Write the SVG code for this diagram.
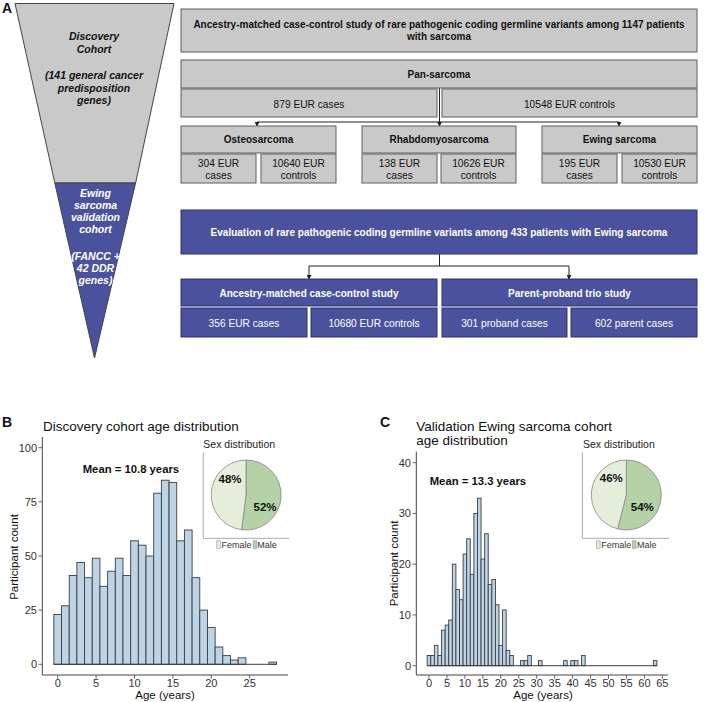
<svg xmlns="http://www.w3.org/2000/svg" width="726" height="702" viewBox="0 0 726 702">
<defs>
<marker id="arr" viewBox="0 0 6 6" refX="5" refY="3" markerWidth="5" markerHeight="5" orient="auto" markerUnits="userSpaceOnUse">
<path d="M0,0 L6,3 L0,6 z" fill="#222"/>
</marker>
<style>
text{font-family:"Liberation Sans",Arial,sans-serif;}
.gbox{fill:#c9c9c9;stroke:#5e5e5e;stroke-width:1;}
.bbox{fill:#4a529e;stroke:#2c3170;stroke-width:1;}
.gt{font-size:10.2px;fill:#111;text-anchor:middle;}
.gtb{font-size:10px;font-weight:bold;fill:#111;text-anchor:middle;}
.bt{font-size:10.2px;fill:#fff;text-anchor:middle;}
.btb{font-size:10px;font-weight:bold;fill:#fff;text-anchor:middle;}
.conn{fill:none;stroke:#222;stroke-width:1;}
.ft{font-size:10.5px;font-weight:bold;font-style:italic;text-anchor:middle;}
.bar{fill:#bcd4e6;stroke:#3a3f44;stroke-width:0.9;}
.axis{stroke:#444;stroke-width:1;fill:none;}
.tick{stroke:#444;stroke-width:0.8;}
.tl{font-size:11px;fill:#333;}
.ttl{font-size:13.5px;fill:#111;}
.at{font-size:11.5px;fill:#111;text-anchor:middle;}
.mean{font-size:11.3px;font-weight:bold;fill:#111;}
.sex{font-size:10.5px;fill:#222;}
.pct{font-size:11.5px;font-weight:bold;fill:#111;text-anchor:middle;}
.leg{font-size:9px;fill:#333;}
.inax{stroke:#aaa;stroke-width:1;fill:none;}
.fem{fill:#e4eedb;stroke:#888;stroke-width:0.8;}
.male{fill:#b5d2a6;stroke:#888;stroke-width:0.8;}
.lab{font-size:14px;font-weight:bold;fill:#111;}
</style>
</defs>

<!-- Panel A label -->
<text class="lab" x="2" y="13">A</text>

<!-- Funnel -->
<g id="funnel">
<polygon points="15,3.5 174,3.5 135.6,183 54.8,183" fill="#c9c9c9" stroke="#444" stroke-width="1"/>
<polygon points="54.8,183 135.6,183 94.5,358" fill="#4a529e" stroke="#444" stroke-width="1"/>
<text class="ft" fill="#111" x="94" y="40">Discovery</text>
<text class="ft" fill="#111" x="94" y="53">Cohort</text>
<text class="ft" fill="#111" x="94" y="79">(141 general cancer</text>
<text class="ft" fill="#111" x="94" y="92">predisposition</text>
<text class="ft" fill="#111" x="94" y="104">genes)</text>
<text class="ft" fill="#fff" x="95.5" y="197">Ewing</text>
<text class="ft" fill="#fff" x="95.5" y="209">sarcoma</text>
<text class="ft" fill="#fff" x="95.5" y="221">validation</text>
<text class="ft" fill="#fff" x="95.5" y="233">cohort</text>
<text class="ft" fill="#fff" x="95.5" y="260">(FANCC +</text>
<text class="ft" fill="#fff" x="95.5" y="272">42 DDR</text>
<text class="ft" fill="#fff" x="95.5" y="284">genes)</text>
</g>

<!-- Connectors -->
<g id="connectors">
<path class="conn" d="M439.5,88 V122"/>
<path class="conn" d="M257,122 H619"/>
<path class="conn" d="M257,122 V126" marker-end="url(#arr)"/>
<path class="conn" d="M439.5,122 V126" marker-end="url(#arr)"/>
<path class="conn" d="M619,122 V126" marker-end="url(#arr)"/>
<path class="conn" d="M439.5,254 V266 M309,266 H569"/>
<path class="conn" d="M309,266 V279" marker-end="url(#arr)"/>
<path class="conn" d="M569,266 V279" marker-end="url(#arr)"/>
</g>

<!-- Gray boxes -->
<g id="n-study">
<rect class="gbox" x="181" y="9" width="516" height="43"/>
<text class="gtb" x="439" y="28">Ancestry-matched case-control study of rare pathogenic coding germline variants among 1147 patients</text>
<text class="gtb" x="439" y="40">with sarcoma</text>
</g>
<g id="n-pan">
<rect class="gbox" x="181" y="60" width="516" height="28"/>
<text class="gtb" x="439" y="78">Pan-sarcoma</text>
</g>
<g id="n-pan-cases">
<rect class="gbox" x="181" y="89" width="256" height="28"/>
<text class="gt" x="309" y="108">879 EUR cases</text>
</g>
<g id="n-pan-controls">
<rect class="gbox" x="442" y="89" width="255" height="28"/>
<text class="gt" x="569.5" y="108">10548 EUR controls</text>
</g>
<g id="n-osteo">
<rect class="gbox" x="181" y="126" width="155" height="27"/>
<text class="gtb" x="258.5" y="143">Osteosarcoma</text>
</g>
<g id="n-osteo-cases">
<rect class="gbox" x="181" y="154" width="75" height="29"/>
<text class="gt" x="218.5" y="167">304 EUR</text>
<text class="gt" x="218.5" y="179">cases</text>
</g>
<g id="n-osteo-controls">
<rect class="gbox" x="261" y="154" width="75" height="29"/>
<text class="gt" x="298.5" y="167">10640 EUR</text>
<text class="gt" x="298.5" y="179">controls</text>
</g>
<g id="n-rhabdo">
<rect class="gbox" x="362" y="126" width="154" height="27"/>
<text class="gtb" x="439" y="143">Rhabdomyosarcoma</text>
</g>
<g id="n-rhabdo-cases">
<rect class="gbox" x="362" y="154" width="75" height="29"/>
<text class="gt" x="399.5" y="167">138 EUR</text>
<text class="gt" x="399.5" y="179">cases</text>
</g>
<g id="n-rhabdo-controls">
<rect class="gbox" x="441" y="154" width="75" height="29"/>
<text class="gt" x="478.5" y="167">10626 EUR</text>
<text class="gt" x="478.5" y="179">controls</text>
</g>
<g id="n-ewing">
<rect class="gbox" x="542" y="126" width="155" height="27"/>
<text class="gtb" x="619.5" y="143">Ewing sarcoma</text>
</g>
<g id="n-ewing-cases">
<rect class="gbox" x="542" y="154" width="75" height="29"/>
<text class="gt" x="579.5" y="167">195 EUR</text>
<text class="gt" x="579.5" y="179">cases</text>
</g>
<g id="n-ewing-controls">
<rect class="gbox" x="622" y="154" width="75" height="29"/>
<text class="gt" x="659.5" y="167">10530 EUR</text>
<text class="gt" x="659.5" y="179">controls</text>
</g>

<!-- Blue boxes -->
<g id="n-eval">
<rect class="bbox" x="181" y="210" width="516" height="44"/>
<text class="btb" x="439" y="236">Evaluation of rare pathogenic coding germline variants among 433 patients with Ewing sarcoma</text>
</g>
<g id="n-cc">
<rect class="bbox" x="181" y="279" width="256" height="27"/>
<text class="btb" x="309" y="297">Ancestry-matched case-control study</text>
</g>
<g id="n-trio">
<rect class="bbox" x="442" y="279" width="255" height="27"/>
<text class="btb" x="569.5" y="297">Parent-proband trio study</text>
</g>
<g id="n-cc-cases">
<rect class="bbox" x="181" y="308" width="126" height="29"/>
<text class="bt" x="244" y="327">356 EUR cases</text>
</g>
<g id="n-cc-controls">
<rect class="bbox" x="311" y="308" width="126" height="29"/>
<text class="bt" x="374" y="327">10680 EUR controls</text>
</g>
<g id="n-proband">
<rect class="bbox" x="442" y="308" width="125" height="29"/>
<text class="bt" x="504.5" y="327">301 proband cases</text>
</g>
<g id="n-parent">
<rect class="bbox" x="571" y="308" width="126" height="29"/>
<text class="bt" x="634" y="327">602 parent cases</text>
</g>

<!-- Panel B -->
<g id="panelB">
<text class="lab" x="2" y="427">B</text>
<text class="ttl" x="43" y="431">Discovery cohort age distribution</text>
<g>
<rect class="bar" x="53.86" y="614.5" width="7.68" height="49.8"/>
<rect class="bar" x="61.54" y="605.8" width="7.68" height="58.5"/>
<rect class="bar" x="69.22" y="575.5" width="7.68" height="88.8"/>
<rect class="bar" x="76.90" y="562.5" width="7.68" height="101.8"/>
<rect class="bar" x="84.58" y="577.7" width="7.68" height="86.6"/>
<rect class="bar" x="92.26" y="558.2" width="7.68" height="106.1"/>
<rect class="bar" x="99.94" y="586.3" width="7.68" height="78.0"/>
<rect class="bar" x="107.62" y="571.2" width="7.68" height="93.1"/>
<rect class="bar" x="115.30" y="558.2" width="7.68" height="106.1"/>
<rect class="bar" x="122.98" y="575.5" width="7.68" height="88.8"/>
<rect class="bar" x="130.66" y="540.8" width="7.68" height="123.5"/>
<rect class="bar" x="138.34" y="545.2" width="7.68" height="119.1"/>
<rect class="bar" x="146.02" y="556.0" width="7.68" height="108.3"/>
<rect class="bar" x="153.70" y="493.2" width="7.68" height="171.1"/>
<rect class="bar" x="161.38" y="480.2" width="7.68" height="184.1"/>
<rect class="bar" x="169.06" y="482.4" width="7.68" height="181.9"/>
<rect class="bar" x="176.74" y="540.8" width="7.68" height="123.5"/>
<rect class="bar" x="184.42" y="530.0" width="7.68" height="134.3"/>
<rect class="bar" x="192.10" y="577.7" width="7.68" height="86.6"/>
<rect class="bar" x="199.78" y="610.1" width="7.68" height="54.2"/>
<rect class="bar" x="207.46" y="627.5" width="7.68" height="36.8"/>
<rect class="bar" x="215.14" y="647.0" width="7.68" height="17.3"/>
<rect class="bar" x="222.82" y="655.6" width="7.68" height="8.7"/>
<rect class="bar" x="230.50" y="660.0" width="7.68" height="4.3"/>
<rect class="bar" x="238.18" y="657.8" width="7.68" height="6.5"/>
<rect class="bar" x="268.90" y="662.1" width="7.68" height="2.2"/>
<line x1="53.86" y1="664.3" x2="276.58" y2="664.3" stroke="#3a3f44" stroke-width="1"/>
</g>
<path class="axis" d="M42.3,437 V675 H288"/>
<g class="tick">
<line x1="38.5" y1="447.7" x2="42.3" y2="447.7"/>
<line x1="38.5" y1="501.8" x2="42.3" y2="501.8"/>
<line x1="38.5" y1="556" x2="42.3" y2="556"/>
<line x1="38.5" y1="610.1" x2="42.3" y2="610.1"/>
<line x1="38.5" y1="664.3" x2="42.3" y2="664.3"/>
<line x1="57.7" y1="675" x2="57.7" y2="678.8"/>
<line x1="96.1" y1="675" x2="96.1" y2="678.8"/>
<line x1="134.5" y1="675" x2="134.5" y2="678.8"/>
<line x1="172.9" y1="675" x2="172.9" y2="678.8"/>
<line x1="211.3" y1="675" x2="211.3" y2="678.8"/>
<line x1="249.7" y1="675" x2="249.7" y2="678.8"/>
</g>
<g class="tl" text-anchor="end">
<text x="37" y="451.6">100</text>
<text x="37" y="505.7">75</text>
<text x="37" y="559.9">50</text>
<text x="37" y="614">25</text>
<text x="37" y="668.2">0</text>
</g>
<g class="tl" text-anchor="middle">
<text x="57.7" y="686.5">0</text>
<text x="96.1" y="686.5">5</text>
<text x="134.5" y="686.5">10</text>
<text x="172.9" y="686.5">15</text>
<text x="211.3" y="686.5">20</text>
<text x="249.7" y="686.5">25</text>
</g>
<text class="at" x="165" y="699">Age (years)</text>
<text class="at" transform="translate(17.5,557) rotate(-90)">Participant count</text>
<text class="mean" x="82.7" y="472.7">Mean = 10.8 years</text>
<!-- inset -->
<text class="sex" x="203.3" y="447.7">Sex distribution</text>
<path class="inax" d="M203.3,452.7 V538.3 H289.3"/>
<path class="male" d="M246,495 L246,460 A35,35 0 1 1 241.6,529.7 Z"/>
<path class="fem" d="M246,495 L241.6,529.7 A35,35 0 0 1 246,460 Z"/>
<text class="pct" x="230" y="483.3">48%</text>
<text class="pct" x="265" y="510.7">52%</text>
<rect x="216.8" y="540.8" width="3.6" height="7.5" fill="#e4eedb" stroke="#999" stroke-width="0.6"/>
<text class="leg" x="221.5" y="547.5">Female</text>
<rect x="253.2" y="540.8" width="3.6" height="7.5" fill="#b5d2a6" stroke="#999" stroke-width="0.6"/>
<text class="leg" x="257.3" y="547.5">Male</text>
</g>

<!-- Panel C -->
<g id="panelC">
<text class="lab" x="380" y="427">C</text>
<text class="ttl" x="416.3" y="430.7">Validation Ewing sarcoma cohort</text>
<text class="ttl" x="416.3" y="445">age distribution</text>
<g>
<rect class="bar" x="427.20" y="655.55" width="3.59" height="10.15"/>
<rect class="bar" x="430.79" y="655.55" width="3.59" height="10.15"/>
<rect class="bar" x="434.38" y="645.4" width="3.59" height="20.3"/>
<rect class="bar" x="437.97" y="655.55" width="3.59" height="10.15"/>
<rect class="bar" x="441.56" y="630.17" width="3.59" height="35.53"/>
<rect class="bar" x="445.15" y="625.1" width="3.59" height="40.6"/>
<rect class="bar" x="448.74" y="620.02" width="3.59" height="45.68"/>
<rect class="bar" x="452.33" y="564.2" width="3.59" height="101.5"/>
<rect class="bar" x="455.92" y="589.57" width="3.59" height="76.13"/>
<rect class="bar" x="459.51" y="599.72" width="3.59" height="65.98"/>
<rect class="bar" x="463.10" y="554.05" width="3.59" height="111.65"/>
<rect class="bar" x="466.69" y="538.82" width="3.59" height="126.88"/>
<rect class="bar" x="470.28" y="574.35" width="3.59" height="91.35"/>
<rect class="bar" x="473.87" y="513.45" width="3.59" height="152.25"/>
<rect class="bar" x="477.46" y="498.22" width="3.59" height="167.48"/>
<rect class="bar" x="481.05" y="559.12" width="3.59" height="106.58"/>
<rect class="bar" x="484.64" y="533.75" width="3.59" height="131.95"/>
<rect class="bar" x="488.23" y="584.5" width="3.59" height="81.2"/>
<rect class="bar" x="491.82" y="579.42" width="3.59" height="86.28"/>
<rect class="bar" x="495.41" y="604.8" width="3.59" height="60.9"/>
<rect class="bar" x="499.00" y="645.4" width="3.59" height="20.3"/>
<rect class="bar" x="502.59" y="609.87" width="3.59" height="55.83"/>
<rect class="bar" x="506.18" y="650.47" width="3.59" height="15.23"/>
<rect class="bar" x="509.77" y="655.55" width="3.59" height="10.15"/>
<rect class="bar" x="520.54" y="660.62" width="3.59" height="5.08"/>
<rect class="bar" x="524.13" y="660.62" width="3.59" height="5.08"/>
<rect class="bar" x="527.72" y="655.55" width="3.59" height="10.15"/>
<rect class="bar" x="538.49" y="660.62" width="3.59" height="5.08"/>
<rect class="bar" x="563.62" y="660.62" width="3.59" height="5.08"/>
<rect class="bar" x="570.80" y="660.62" width="3.59" height="5.08"/>
<rect class="bar" x="574.39" y="660.62" width="3.59" height="5.08"/>
<rect class="bar" x="581.57" y="655.55" width="3.59" height="10.15"/>
<rect class="bar" x="653.37" y="660.62" width="3.59" height="5.08"/>
<line x1="427.2" y1="665.7" x2="656.96" y2="665.7" stroke="#3a3f44" stroke-width="1"/>
</g>
<path class="axis" d="M416.3,451.7 V675 H668"/>
<g class="tick">
<line x1="412.5" y1="462.7" x2="416.3" y2="462.7"/>
<line x1="412.5" y1="513.45" x2="416.3" y2="513.45"/>
<line x1="412.5" y1="564.2" x2="416.3" y2="564.2"/>
<line x1="412.5" y1="614.95" x2="416.3" y2="614.95"/>
<line x1="412.5" y1="665.7" x2="416.3" y2="665.7"/>
<line x1="429" y1="675" x2="429" y2="678.8"/>
<line x1="446.95" y1="675" x2="446.95" y2="678.8"/>
<line x1="464.9" y1="675" x2="464.9" y2="678.8"/>
<line x1="482.85" y1="675" x2="482.85" y2="678.8"/>
<line x1="500.8" y1="675" x2="500.8" y2="678.8"/>
<line x1="518.75" y1="675" x2="518.75" y2="678.8"/>
<line x1="536.7" y1="675" x2="536.7" y2="678.8"/>
<line x1="554.65" y1="675" x2="554.65" y2="678.8"/>
<line x1="572.6" y1="675" x2="572.6" y2="678.8"/>
<line x1="590.55" y1="675" x2="590.55" y2="678.8"/>
<line x1="608.5" y1="675" x2="608.5" y2="678.8"/>
<line x1="626.45" y1="675" x2="626.45" y2="678.8"/>
<line x1="644.4" y1="675" x2="644.4" y2="678.8"/>
<line x1="662.35" y1="675" x2="662.35" y2="678.8"/>
</g>
<g class="tl" text-anchor="end">
<text x="411" y="466.6">40</text>
<text x="411" y="517.4">30</text>
<text x="411" y="568.1">20</text>
<text x="411" y="618.9">10</text>
<text x="411" y="669.6">0</text>
</g>
<g class="tl" text-anchor="middle">
<text x="429" y="686.5">0</text>
<text x="446.95" y="686.5">5</text>
<text x="464.9" y="686.5">10</text>
<text x="482.85" y="686.5">15</text>
<text x="500.8" y="686.5">20</text>
<text x="518.75" y="686.5">25</text>
<text x="536.7" y="686.5">30</text>
<text x="554.65" y="686.5">35</text>
<text x="572.6" y="686.5">40</text>
<text x="590.55" y="686.5">45</text>
<text x="608.5" y="686.5">50</text>
<text x="626.45" y="686.5">55</text>
<text x="644.4" y="686.5">60</text>
<text x="662.35" y="686.5">65</text>
</g>
<text class="at" x="543" y="699">Age (years)</text>
<text class="at" transform="translate(397.5,563.5) rotate(-90)">Participant count</text>
<text class="mean" x="429.7" y="485">Mean = 13.3 years</text>
<!-- inset -->
<text class="sex" x="583" y="447.7">Sex distribution</text>
<path class="inax" d="M582.3,452.7 V538.3 H669"/>
<path class="male" d="M626.3,495 L626.3,460 A35,35 0 1 1 617.6,528.9 Z"/>
<path class="fem" d="M626.3,495 L617.6,528.9 A35,35 0 0 1 626.3,460 Z"/>
<text class="pct" x="611.3" y="482.3">46%</text>
<text class="pct" x="642.3" y="510.7">54%</text>
<rect x="596.5" y="540.8" width="3.6" height="7.5" fill="#e4eedb" stroke="#999" stroke-width="0.6"/>
<text class="leg" x="601.3" y="547.5">Female</text>
<rect x="632.5" y="540.8" width="3.6" height="7.5" fill="#b5d2a6" stroke="#999" stroke-width="0.6"/>
<text class="leg" x="637" y="547.5">Male</text>
</g>
</svg>
